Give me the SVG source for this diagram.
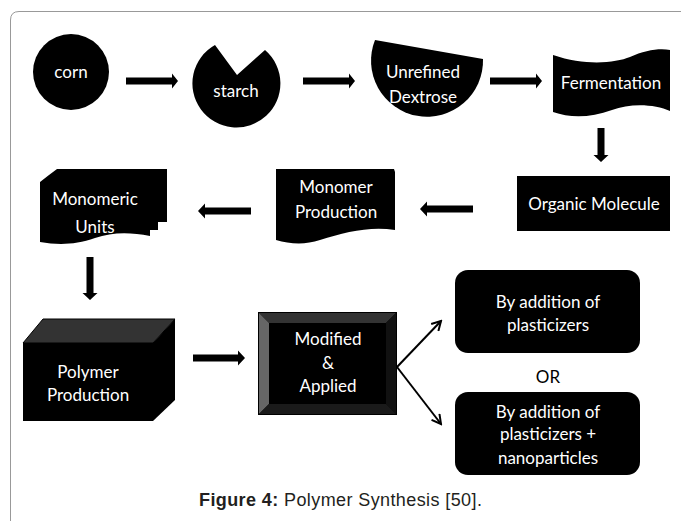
<svg xmlns="http://www.w3.org/2000/svg" width="681" height="521" viewBox="0 0 681 521">
<style>
.shape{fill:#000}
.lbl{font-family:Lato,"Open Sans",sans-serif;font-size:17px;fill:#fff;text-anchor:middle}
.blk{fill:#000}
.thin{stroke:#000;stroke-width:2;fill:none}
.cap{font-family:"Liberation Sans",Arial,sans-serif;font-size:18px;letter-spacing:0.4px;fill:#231f20}
</style>
<defs>
<marker id="open" viewBox="0 0 12 12" refX="10" refY="6" markerWidth="12" markerHeight="12" markerUnits="userSpaceOnUse" orient="auto">
<path d="M1,1 L10,6 L1,11" fill="none" stroke="#000" stroke-width="2"/>
</marker>
</defs>
<rect width="681" height="521" fill="#fff"/>
<path d="M10.5,521 L10.5,20 Q10.5,11.5 19,11.5 L681,11.5" fill="none" stroke="#999" stroke-width="1"/>

<g id="corn">
<circle class="shape" cx="71" cy="72" r="38"/>
<text class="lbl" x="71" y="78">corn</text>
</g>
<g id="starch">
<path class="shape" d="M237,75 L215,45 A44,44 0 1 0 265,50 Z"/>
<text class="lbl" x="236" y="97">starch</text>
</g>
<g id="dextrose">
<path class="shape" d="M375,40 L483,59 A56,56 0 1 1 375,40 Z"/>
<text class="lbl" x="423" y="78">Unrefined</text>
<text class="lbl" x="423" y="103">Dextrose</text>
</g>
<g id="fermentation">
<path class="shape" d="M553,55 C585,66 615,63 630,57 C645,50 660,48 670,50 L670,111 C655,104 630,103 612,110 C590,118 570,118 553,112 Z"/>
<text class="lbl" x="611" y="89">Fermentation</text>
</g>
<g id="organic">
<rect class="shape" x="517" y="176" width="153" height="55"/>
<text class="lbl" x="594" y="210">Organic Molecule</text>
</g>
<g id="monomer">
<path class="shape" d="M276,169 L394,169 L395,172 L395,230 C370,226 345,232 320,240 C305,245 290,244 276,240 Z"/>
<text class="lbl" x="336" y="193">Monomer</text>
<text class="lbl" x="336" y="218">Production</text>
</g>
<g id="monomeric">
<path class="shape" d="M57,169 L167,169 L167,222 L158,222 L158,175 L49,175 Z"/>
<path class="shape" d="M49,175 L158,175 L158,230 L150,230 L150,182 L40,182 Z"/>
<path class="shape" d="M40,182 L150,182 L150,236 C130,232 112,232 95,238 C75,245 58,245 40,242 Z"/>
<text class="lbl" x="95" y="205">Monomeric</text>
<text class="lbl" x="95" y="233">Units</text>
</g>
<g id="polymer">
<polygon fill="#333" stroke="#000" stroke-width="1" points="23,343 43,319 175,319 153,343"/>
<polygon class="shape" points="153,343 175,319 175,400 153,421"/>
<rect class="shape" x="23" y="343" width="130" height="78"/>
<text class="lbl" x="88" y="378">Polymer</text>
<text class="lbl" x="88" y="401">Production</text>
</g>
<g id="modified">
<rect class="shape" x="258" y="312" width="139" height="103"/>
<polygon fill="#333" points="259,313 396,313 386,323 269,323"/>
<polygon fill="#666" points="259,313 269,323 269,404 259,414"/>
<polygon fill="#111" points="396,313 396,414 386,404 386,323"/>
<polygon fill="#1a1a1a" points="259,414 269,404 386,404 396,414"/>
<rect fill="#000" x="269" y="323" width="117" height="81"/>
<text class="lbl" x="328" y="345">Modified</text>
<text class="lbl" x="328" y="369">&amp;</text>
<text class="lbl" x="328" y="392">Applied</text>
</g>
<g id="plasticizers">
<rect class="shape" x="455" y="270" width="185" height="83" rx="13"/>
<text class="lbl" x="548" y="308">By addition of</text>
<text class="lbl" x="548" y="331">plasticizers</text>
</g>
<text x="548" y="383" font-family="Lato,'Open Sans',sans-serif" font-size="17" text-anchor="middle" fill="#000">OR</text>
<g id="nanoparticles">
<rect class="shape" x="455" y="392" width="185" height="83" rx="13"/>
<text class="lbl" x="548" y="418">By addition of</text>
<text class="lbl" x="548" y="440">plasticizers +</text>
<text class="lbl" x="548" y="464">nanoparticles</text>
</g>

<g id="connectors">
<polygon class="blk" points="126,77.5 172,77.5 172,73.5 178,81 172,88.5 172,84.5 126,84.5"/>
<polygon class="blk" points="303,77.5 349,77.5 349,73.5 355,81 349,88.5 349,84.5 303,84.5"/>
<polygon class="blk" points="490,77.5 536,77.5 536,73.5 542,81 536,88.5 536,84.5 490,84.5"/>
<polygon class="blk" points="597.5,128 604.5,128 604.5,155 608.5,155 601,162 593.5,155 597.5,155"/>
<polygon class="blk" points="473,205.5 427,205.5 427,201.5 420,209 427,216.5 427,212.5 473,212.5"/>
<polygon class="blk" points="251,207.5 205,207.5 205,203.5 198,211 205,218.5 205,214.5 251,214.5"/>
<polygon class="blk" points="86.5,257 93.5,257 93.5,293 97.5,293 90,300 82.5,293 86.5,293"/>
<polygon class="blk" points="193,354.5 238,354.5 238,350.5 245,358 238,365.5 238,361.5 193,361.5"/>
<line class="thin" x1="397" y1="367" x2="441" y2="321" marker-end="url(#open)"/>
<line class="thin" x1="397" y1="367" x2="441" y2="424" marker-end="url(#open)"/>
</g>

<text class="cap" x="199" y="506"><tspan font-weight="bold">Figure 4:</tspan> Polymer Synthesis [50].</text>
</svg>
